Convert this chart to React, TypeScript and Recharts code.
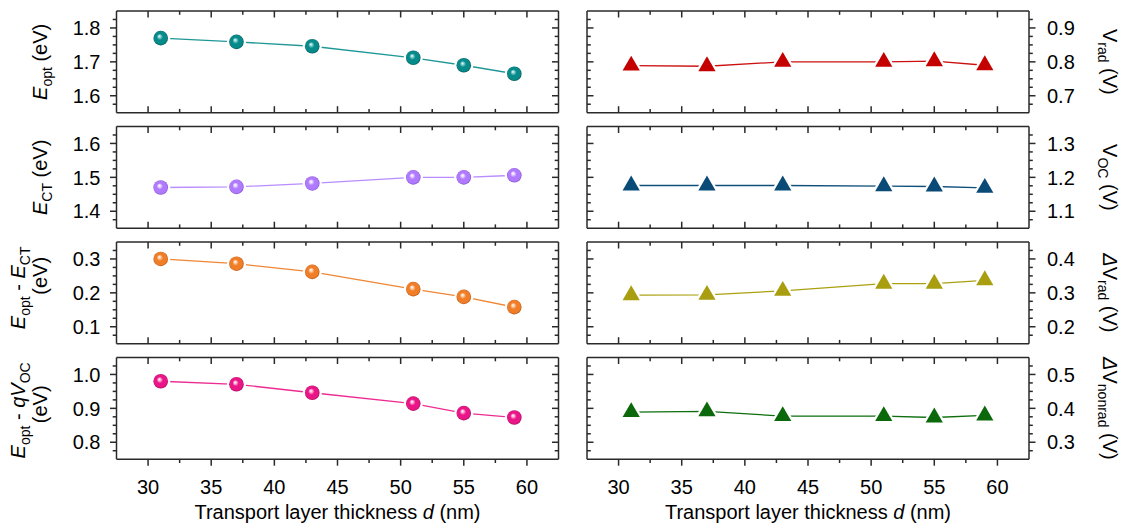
import React from 'react';
import { LineChart, Line, XAxis, YAxis } from 'recharts';

const FONT = '"Liberation Sans", Arimo, Arial, Helvetica, sans-serif';
const W = 1121;
const H = 524;
const FRAME = '#2a2a2a';

// ---------- data ----------
const thickness = [31, 37, 43, 51, 55, 59];
const eOpt = [1.77, 1.759, 1.746, 1.712, 1.69, 1.665];
const eCT = [1.47, 1.472, 1.482, 1.5, 1.5, 1.506];
const eOptMinusECT = [0.3, 0.286, 0.262, 0.211, 0.188, 0.158];
const eOptMinusQVoc = [0.98, 0.971, 0.946, 0.914, 0.886, 0.873];
const vRad = [0.789, 0.787, 0.8, 0.8, 0.802, 0.79];
const vOC = [1.176, 1.176, 1.176, 1.174, 1.173, 1.169];
const dVRad = [0.293, 0.294, 0.306, 0.327, 0.327, 0.337];
const dVNonrad = [0.389, 0.391, 0.377, 0.377, 0.373, 0.379];

// ---------- ticks ----------
const xMajorTicks = [30, 35, 40, 45, 50, 55, 60];
const xDomain: [number, number] = [27.5, 62.5];
const ticksEopt = [1.6, 1.7, 1.8];
const ticksECT = [1.4, 1.5, 1.6];
const ticksEoptECT = [0.1, 0.2, 0.3];
const ticksEoptQVoc = [0.8, 0.9, 1.0];
const ticksVRad = [0.7, 0.8, 0.9];
const ticksVOC = [1.1, 1.2, 1.3];
const ticksDVRad = [0.2, 0.3, 0.4];
const ticksDVNonrad = [0.3, 0.4, 0.5];

const COLS = [
  { left: 116.5, right: 558.5 },
  { left: 587, right: 1029 },
];
const ROW_TOPS = [11, 126.5, 242, 357.5];
const PLOT_H = 101.7;
const X_LABEL_BASE = 494;

function ticksBetween(lo: number, hi: number, step: number) {
  const out: number[] = [];
  for (let k = 1; lo + k * step < hi - step / 10; k++) {
    out.push(Math.round((lo + k * step) * 10000) / 10000);
  }
  return out;
}

const xTicks = ticksBetween(xDomain[0], xDomain[1], 2.5);

type Side = 'left' | 'right' | 'top' | 'bottom';

function makeTick(side: Side, outward: boolean, labeled: boolean, majors: number[], fmt: (v: number) => string) {
  return (props: any) => {
    const { x, y, payload } = props;
    const v = Number(payload?.value);
    const isMajor = majors.some((m) => Math.abs(m - v) < 1e-6);
    const len = isMajor ? 6.5 : 3.8;
    const s = outward ? 1 : -1;
    const dx = side === 'left' ? -1 : side === 'right' ? 1 : 0;
    const dy = side === 'top' ? -1 : side === 'bottom' ? 1 : 0;
    const x2 = x + dx * len * s;
    const y2 = y + dy * len * s;
    let label: React.ReactNode = null;
    if (labeled && isMajor) {
      const common = { fontFamily: FONT, fontSize: 20, fill: '#000' };
      if (side === 'left')
        label = (
          <text x={x - 16} y={y} dy="0.36em" textAnchor="end" {...common}>
            {fmt(v)}
          </text>
        );
      else if (side === 'right')
        label = (
          <text x={x + 18} y={y} dy="0.36em" textAnchor="start" {...common}>
            {fmt(v)}
          </text>
        );
      else if (side === 'bottom')
        label = (
          <text x={x} y={X_LABEL_BASE} textAnchor="middle" {...common}>
            {fmt(v)}
          </text>
        );
    }
    return (
      <g>
        <line x1={x} y1={y} x2={x2} y2={y2} stroke={FRAME} strokeWidth={1.5} />
        {label}
      </g>
    );
  };
}

const fmt1 = (v: number) => v.toFixed(1);
const fmt0 = (v: number) => String(v);

// ---------- markers ----------
function SphereDot(props: any) {
  const { cx, cy, gid, color, light, dark } = props;
  if (cx == null || cy == null) return null;
  return (
    <g>
      <defs>
        <radialGradient id={gid} cx="50%" cy="50%" r="52%" fx="40%" fy="36%">
          <stop offset="0%" stopColor="#ffffff" />
          <stop offset="16%" stopColor={light} />
          <stop offset="42%" stopColor={color} />
          <stop offset="82%" stopColor={color} />
          <stop offset="100%" stopColor={dark} />
        </radialGradient>
      </defs>
      <circle cx={cx} cy={cy} r={9.6} fill="#fff" />
      <circle cx={cx} cy={cy} r={7.3} fill={`url(#${gid})`} />
    </g>
  );
}

function TriDot(props: any) {
  const { cx, cy, color } = props;
  if (cx == null || cy == null) return null;
  const s = 8.6;
  const h = 14.9;
  const d = `M${cx},${cy - (2 * h) / 3} L${cx + s},${cy + h / 3} L${cx - s},${cy + h / 3} Z`;
  return <path d={d} fill={color} stroke="#fff" strokeWidth={4.5} paintOrder="stroke" strokeLinejoin="round" />;
}

// ---------- titles ----------
const T = { fontFamily: FONT, fontSize: 20, fill: '#000' };
const SUB = 14;
const SD = 5;

function LeftTitle({ row }: { row: number }) {
  const cy = ROW_TOPS[row] + PLOT_H / 2;
  if (row === 0)
    return (
      <text transform={`translate(47, ${cy}) rotate(-90)`} textAnchor="middle" {...T}>
        <tspan fontStyle="italic">E</tspan>
        <tspan fontSize={SUB} dy={SD}>opt</tspan>
        <tspan dy={-SD}> (eV)</tspan>
      </text>
    );
  if (row === 1)
    return (
      <text transform={`translate(47, ${cy}) rotate(-90)`} textAnchor="middle" {...T}>
        <tspan fontStyle="italic">E</tspan>
        <tspan fontSize={SUB} dy={SD}>CT</tspan>
        <tspan dy={-SD}> (eV)</tspan>
      </text>
    );
  if (row === 2)
    return (
      <g>
        <text transform={`translate(25, ${cy - 5}) rotate(-90)`} textAnchor="middle" {...T}>
          <tspan fontStyle="italic">E</tspan>
          <tspan fontSize={SUB} dy={SD}>opt</tspan>
          <tspan dy={-SD}> - </tspan>
          <tspan fontStyle="italic">E</tspan>
          <tspan fontSize={SUB} dy={SD}>CT</tspan>
        </text>
        <text transform={`translate(46.5, ${cy - 17}) rotate(-90)`} textAnchor="middle" {...T}>
          (eV)
        </text>
      </g>
    );
  return (
    <g>
      <text transform={`translate(25, ${cy + 2}) rotate(-90)`} textAnchor="middle" {...T}>
        <tspan fontStyle="italic">E</tspan>
        <tspan fontSize={SUB} dy={SD}>opt</tspan>
        <tspan dy={-SD}> - </tspan>
        <tspan fontStyle="italic">qV</tspan>
        <tspan fontSize={SUB} dy={SD}>OC</tspan>
      </text>
      <text transform={`translate(46.5, ${cy - 4}) rotate(-90)`} textAnchor="middle" {...T}>
        (eV)
      </text>
    </g>
  );
}

function RightTitle({ row }: { row: number }) {
  const cy = ROW_TOPS[row] + PLOT_H / 2;
  const delta = row >= 2;
  const sub = row === 0 ? 'rad' : row === 1 ? 'OC' : row === 2 ? 'rad' : 'nonrad';
  return (
    <text transform={`translate(1103, ${cy}) rotate(90)`} textAnchor="middle" {...T}>
      {delta ? <tspan fontStyle="italic">Δ</tspan> : null}
      <tspan>V</tspan>
      <tspan fontSize={SUB} dy={SD}>{sub}</tspan>
      <tspan dy={-SD}> (V)</tspan>
    </text>
  );
}

function XTitle({ col }: { col: number }) {
  const cx = (COLS[col].left + COLS[col].right) / 2;
  return (
    <text x={cx} y={519} textAnchor="middle" {...T}>
      Transport layer thickness <tspan fontStyle="italic">d</tspan> (nm)
    </text>
  );
}

// ---------- panels ----------
type PanelDef = {
  id: string;
  col: number;
  row: number;
  values: number[];
  majors: number[];
  color: string;
  line: string;
  light?: string;
  dark?: string;
  marker: 'sphere' | 'tri';
};

const panels: PanelDef[] = [
  { id: 'eopt', col: 0, row: 0, values: eOpt, majors: ticksEopt, color: '#078a8a', line: '#1f9797', light: '#8fd6d6', dark: '#035050', marker: 'sphere' },
  { id: 'ect', col: 0, row: 1, values: eCT, majors: ticksECT, color: '#b07aff', line: '#b98cff', light: '#ecdcff', dark: '#7a45c4', marker: 'sphere' },
  { id: 'eoptect', col: 0, row: 2, values: eOptMinusECT, majors: ticksEoptECT, color: '#f07d28', line: '#f08634', light: '#ffd6b4', dark: '#b0500f', marker: 'sphere' },
  { id: 'eoptqvoc', col: 0, row: 3, values: eOptMinusQVoc, majors: ticksEoptQVoc, color: '#ea1587', line: '#ec2c92', light: '#ffbade', dark: '#9c0852', marker: 'sphere' },
  { id: 'vrad', col: 1, row: 0, values: vRad, majors: ticksVRad, color: '#c40000', line: '#cc1010', marker: 'tri' },
  { id: 'voc', col: 1, row: 1, values: vOC, majors: ticksVOC, color: '#0a4a76', line: '#0f4f7c', marker: 'tri' },
  { id: 'dvrad', col: 1, row: 2, values: dVRad, majors: ticksDVRad, color: '#a99e10', line: '#aaa010', marker: 'tri' },
  { id: 'dvnonrad', col: 1, row: 3, values: dVNonrad, majors: ticksDVNonrad, color: '#0b680b', line: '#0e6e0e', marker: 'tri' },
];

function Panel({ p }: { p: PanelDef }) {
  const data = thickness.map((d, i) => ({ d, v: p.values[i] }));
  const left = COLS[p.col].left;
  const right = COLS[p.col].right;
  const top = ROW_TOPS[p.row];
  const bottom = top + PLOT_H;
  const yDomain: [number, number] = [
    Math.round((p.majors[0] - 0.05) * 1000) / 1000,
    Math.round((p.majors[p.majors.length - 1] + 0.05) * 1000) / 1000,
  ];
  const yTicks = ticksBetween(yDomain[0], yDomain[1], 0.025);
  const axisLine = { stroke: FRAME, strokeWidth: 1.5 };
  const lastRow = p.row === 3;
  const gid = `grad-${p.id}`;
  return (
    <LineChart
      width={W}
      height={H}
      data={data}
      margin={{ top: top - 1, bottom: H - bottom - 1, left: left - 1, right: W - right - 1 }}
    >
      <XAxis
        xAxisId="b"
        dataKey="d"
        type="number"
        domain={xDomain}
        allowDataOverflow
        ticks={xTicks}
        interval={0}
        height={1}
        tickSize={0}
        tickMargin={0}
        tickLine={false}
        axisLine={axisLine}
        tick={makeTick('bottom', lastRow, lastRow, xMajorTicks, fmt0)}
        label={lastRow ? <XTitle col={p.col} /> : undefined}
      />
      <XAxis
        xAxisId="t"
        orientation="top"
        dataKey="d"
        type="number"
        domain={xDomain}
        allowDataOverflow
        ticks={xTicks}
        interval={0}
        height={1}
        tickSize={0}
        tickMargin={0}
        tickLine={false}
        axisLine={axisLine}
        tick={makeTick('top', false, false, xMajorTicks, fmt0)}
      />
      <YAxis
        yAxisId="l"
        orientation="left"
        type="number"
        domain={yDomain}
        allowDataOverflow
        ticks={yTicks}
        interval={0}
        width={1}
        tickSize={0}
        tickMargin={0}
        tickLine={false}
        axisLine={axisLine}
        tick={makeTick('left', p.col === 0, p.col === 0, p.majors, fmt1)}
        label={p.col === 0 ? <LeftTitle row={p.row} /> : undefined}
      />
      <YAxis
        yAxisId="r"
        orientation="right"
        type="number"
        domain={yDomain}
        allowDataOverflow
        ticks={yTicks}
        interval={0}
        width={1}
        tickSize={0}
        tickMargin={0}
        tickLine={false}
        axisLine={axisLine}
        tick={makeTick('right', p.col === 1, p.col === 1, p.majors, fmt1)}
        label={p.col === 1 ? <RightTitle row={p.row} /> : undefined}
      />
      <Line
        xAxisId="b"
        yAxisId="l"
        type="linear"
        dataKey="v"
        stroke={p.line}
        strokeWidth={1.3}
        isAnimationActive={false}
        activeDot={false}
        dot={(dp: any) =>
          p.marker === 'sphere' ? (
            <SphereDot key={`d-${dp.index}`} cx={dp.cx} cy={dp.cy} gid={gid} color={p.color} light={p.light} dark={p.dark} />
          ) : (
            <TriDot key={`d-${dp.index}`} cx={dp.cx} cy={dp.cy} color={p.color} />
          )
        }
      />
    </LineChart>
  );
}

export default function App() {
  return (
    <div style={{ position: 'absolute', left: 0, top: 0, width: W, height: H, background: '#fff', fontFamily: FONT }}>
      {panels.map((p) => (
        <div key={p.id} style={{ position: 'absolute', left: 0, top: 0, width: W, height: H }}>
          <Panel p={p} />
        </div>
      ))}
    </div>
  );
}
